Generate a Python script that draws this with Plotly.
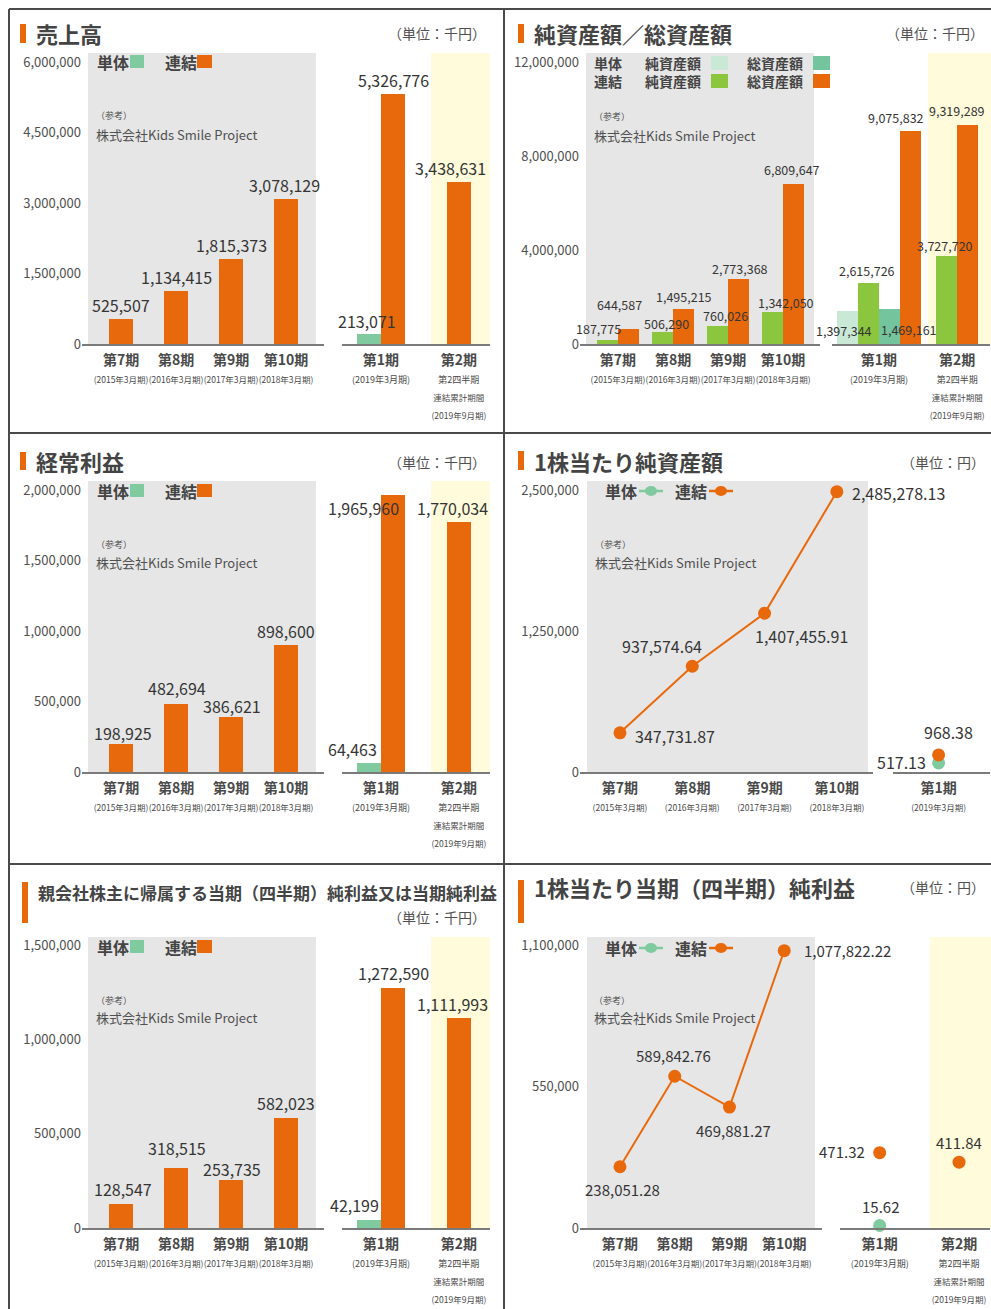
import plotly.graph_objects as go

# ---------------- data ----------------
ref_periods = ["第7期", "第8期", "第9期", "第10期"]
ref_fy = ["(2015年3月期)", "(2016年3月期)", "(2017年3月期)", "(2018年3月期)"]
grp_periods = ["第1期", "第2期"]
grp_sub = [["(2019年3月期)"], ["第2四半期", "連結累計期間", "(2019年9月期)"]]

sales_ref = [525507, 1134415, 1815373, 3078129]
sales_grp_single = [213071, None]
sales_grp_consol = [5326776, 3438631]

netassets_ref = [187775, 506290, 760026, 1342050]
totalassets_ref = [644587, 1495215, 2773368, 6809647]
netassets_grp_single = [1397344, None]
netassets_grp_consol = [2615726, 3727720]
totalassets_grp_single = [1469161, None]
totalassets_grp_consol = [9075832, 9319289]

ordinary_ref = [198925, 482694, 386621, 898600]
ordinary_grp_single = [64463, None]
ordinary_grp_consol = [1965960, 1770034]

bps_ref = [347731.87, 937574.64, 1407455.91, 2485278.13]
bps_grp_periods = ["第1期"]
bps_grp_single = [517.13]
bps_grp_consol = [968.38]

netincome_ref = [128547, 318515, 253735, 582023]
netincome_grp_single = [42199, None]
netincome_grp_consol = [1272590, 1111993]

eps_ref = [238051.28, 589842.76, 469881.27, 1077822.22]
eps_grp_single = [15.62, None]
eps_grp_consol = [471.32, 411.84]

sales_ticks = [0, 1500000, 3000000, 4500000, 6000000]
assets_ticks = [0, 4000000, 8000000, 12000000]
ordinary_ticks = [0, 500000, 1000000, 1500000, 2000000]
bps_ticks = [0, 1250000, 2500000]
netincome_ticks = [0, 500000, 1000000, 1500000]
eps_ticks = [0, 550000, 1100000]

titles = ["売上高", "純資産額／総資産額", "経常利益", "1株当たり純資産額",
          "親会社株主に帰属する当期（四半期）純利益又は当期純利益", "1株当たり当期（四半期）純利益"]
units = ["（単位：千円）", "（単位：千円）", "（単位：千円）", "（単位：円）", "（単位：千円）", "（単位：円）"]

# ---------------- style ----------------
W, H = 991, 1309


def clamp(v):
    return min(max(v, 0.0), 1.0)


def fx(p): return clamp(p / W)
def fy(p): return clamp(1 - p / H)


FONT = "Noto Sans CJK JP, Noto Sans, sans-serif"
TXT = "#353535"
TXT2 = "#505050"
TITLE = "#444444"
ORANGE = "#e8690b"
MINT = "#7fcb9f"
LIGHTMINT = "#c9e8d5"
TEAL = "#74c49d"
GREEN = "#8cc63f"
GRAY_BG = "#e6e6e6"
YELLOW_BG = "#fffbdb"
AXIS = "#7a7a7a"
BORDER = "#4a4a4a"

layout = dict(width=W, height=H, autosize=False, margin=dict(l=0, r=0, t=0, b=0, pad=0),
              paper_bgcolor="white", plot_bgcolor="rgba(0,0,0,0)",
              showlegend=False, barmode="overlay", bargap=0)
shapes, annotations, traces = [], [], []


def axkey(n, k):
    return f"{k}axis" + ("" if n == 1 else str(n))


def axref(n, k):
    return k + ("" if n == 1 else str(n))


def ticktext(mains, subs, sub_sizes):
    out = []
    for m, ss in zip(mains, subs):
        t = f"<b>{m}</b>"
        for s, fs in zip(ss, sub_sizes):
            t += f"<br><span style='font-size:{fs}px'>{s}</span>"
        out.append(t)
    return out


def add_subplot(n, xdom, ydom, xrange, yrange, cats, ttext, yticks=None):
    layout[axkey(n, "x")] = dict(
        domain=[fx(xdom[0]), fx(xdom[1])], anchor=axref(n, "y"), type="category",
        categoryorder="array", categoryarray=cats, range=xrange, tickmode="array",
        tickvals=cats, ticktext=ttext, tickangle=0, showline=True, linecolor=AXIS,
        linewidth=2, ticks="", showgrid=False, zeroline=False, fixedrange=True,
        automargin=False, tickfont=dict(family=FONT, size=14, color="#4a4a4a"), ticklabelstandoff=2)
    layout[axkey(n, "y")] = dict(
        domain=[fy(ydom[1]), fy(ydom[0])], anchor=axref(n, "x"), range=yrange,
        showgrid=False, zeroline=False, showline=False, ticks="", fixedrange=True,
        automargin=False, showticklabels=yticks is not None, tickmode="array",
        tickvals=yticks or [], tickformat=",", tickfont=dict(family=FONT, size=13, color=TXT2))


def rect(x0, y0, x1, y1, color, layer="below"):
    shapes.append(dict(type="rect", xref="paper", yref="paper", x0=fx(x0), x1=fx(x1),
                       y0=fy(y1), y1=fy(y0), fillcolor=color, line=dict(width=0), layer=layer))


def line(x0, y0, x1, y1, color, width):
    shapes.append(dict(type="line", xref="paper", yref="paper", x0=fx(x0), x1=fx(x1),
                       y0=fy(y0), y1=fy(y1), line=dict(color=color, width=width), layer="above"))


def text(x, y, s, size, color=TXT, xanchor="left", weight="normal"):
    annotations.append(dict(xref="paper", yref="paper", x=fx(x), y=fy(y), text=s,
                            showarrow=False, xanchor=xanchor, yanchor="middle", align=xanchor,
                            font=dict(family=FONT, size=size, color=color, weight=weight)))


def fmt(v):
    return f"{v:,.2f}" if isinstance(v, float) else f"{v:,}"


def vlabel(n, x, y, dx, dy, size, xanchor="center"):
    annotations.append(dict(xref=axref(n, "x"), yref=axref(n, "y"), x=x, y=y, text=fmt(y),
                            showarrow=False, xshift=dx, yshift=dy, xanchor=xanchor,
                            yanchor="middle", font=dict(family=FONT, size=size, color=TXT)))


def bar(n, cats, vals, color, w, offset):
    traces.append(go.Bar(x=cats, y=vals, xaxis=axref(n, "x"), yaxis=axref(n, "y"),
                         marker=dict(color=color, line=dict(width=0)), width=w, offset=offset,
                         hoverinfo="skip"))


def header(x_mark, y0, y1, title, tsize, ty, unit, ux, uy):
    rect(x_mark, y0, x_mark + 6, y1, ORANGE, layer="above")
    text(x_mark + 14, ty, title, tsize, TITLE, weight="bold")
    text(ux, uy, unit, 14, TXT2, xanchor="right")


def bar_legend(yc, x0):
    text(x0, yc, "単体", 16, TITLE, weight="bold")
    rect(x0 + 35, yc - 7, x0 + 49, yc + 6, MINT, layer="above")
    text(x0 + 68, yc, "連結", 16, TITLE, weight="bold")
    rect(x0 + 102, yc - 7, x0 + 117, yc + 6, ORANGE, layer="above")


def line_legend(yc, x0):
    for dx, lab, col in [(0, "単体", MINT), (70, "連結", ORANGE)]:
        text(x0 + dx, yc, lab, 16, TITLE, weight="bold")
        line(x0 + dx + 36, yc, x0 + dx + 60, yc, col, 2.5)
        shapes.append(dict(type="circle", xref="paper", yref="paper",
                           x0=fx(x0 + dx + 42), x1=fx(x0 + dx + 54), y0=fy(yc + 5), y1=fy(yc - 5),
                           fillcolor=col, line=dict(width=0), layer="above"))


def note(x, y):
    text(x, y, "（参考）", 9, TXT2)
    text(x, y + 18, "株式会社Kids Smile Project", 13, TXT2)


ref_tt = ticktext(ref_periods, [[s] for s in ref_fy], [8.5])
grp_tt = ticktext(grp_periods, grp_sub, [9, 8.5, 8.5])
bps_tt = ticktext(bps_grp_periods, [grp_sub[0]], [8.5])

# ---------------- borders ----------------
line(9, 9, 991, 9, BORDER, 2)
line(9, 433, 991, 433, BORDER, 2)
line(9, 864, 991, 864, BORDER, 2)
line(9, 9, 9, 1309, BORDER, 2)
line(504, 9, 504, 1309, BORDER, 2)


# ---------------- generic bar panel ----------------
def simple_bar_panel(n, y_top, y_zero, bg_top, yrange, yticks, ref_vals, g_single, g_consol,
                     ref_dx, ref_dy, gs_dx, gs_dy, gc_dx, gc_dy):
    wl, wr = 0.44, 0.31
    rect(88, bg_top, 316, y_zero, GRAY_BG)
    rect(431, bg_top, 490, y_zero, YELLOW_BG)
    add_subplot(n, (82, 324), (y_top, y_zero), [-0.71, 3.69], yrange, ref_periods, ref_tt, yticks)
    add_subplot(n + 1, (342, 490), (y_top, y_zero), [-0.5, 1.4], yrange, grp_periods, grp_tt)
    bar(n, ref_periods, ref_vals, ORANGE, wl, -wl / 2)
    for i, v in enumerate(ref_vals):
        vlabel(n, i, v, ref_dx[i], ref_dy[i], 16)
    bar(n + 1, grp_periods, g_single, MINT, wr, -wr)
    g_off = [0 if s is not None else -wr / 2 for s in g_single]
    bar(n + 1, grp_periods, g_consol, ORANGE, wr, g_off)
    for i, v in enumerate(g_single):
        if v is not None:
            vlabel(n + 1, i - wr / 2, v, gs_dx[i], gs_dy[i], 16)
    for i, v in enumerate(g_consol):
        vlabel(n + 1, i + g_off[i] + wr / 2, v, gc_dx[i], gc_dy[i], 16)


# Panel A: 売上高
header(20, 24, 43, titles[0], 22, 33, units[0], 488, 33)
simple_bar_panel(1, 62, 344, 53, [0, 6000000], sales_ticks, sales_ref, sales_grp_single, sales_grp_consol,
                 [0, 0, 0, -2], [14, 14, 14, 14], [-2, None], [13, None], [0, -8], [14, 14])
bar_legend(62, 95)
note(94, 116)

# Panel C: 経常利益
header(20, 452, 470, titles[2], 22, 461, units[2], 488, 462)
simple_bar_panel(5, 490, 772, 481, [0, 2000000], ordinary_ticks, ordinary_ref, ordinary_grp_single,
                 ordinary_grp_consol, [2, 1, 1, 0], [11, 16, 11, 14], [-16, None], [14, None],
                 [-30, -6], [-13, 14])
bar_legend(491, 95)
note(94, 544)

# Panel E: 親会社株主に帰属する...
header(22, 882, 923, titles[4], 17, 892, units[4], 488, 917)
simple_bar_panel(9, 945, 1228, 937, [0, 1500000], netincome_ticks, netincome_ref, netincome_grp_single,
                 netincome_grp_consol, [2, 1, 1, 0], [15, 20, 11, 15], [-14, None], [15, None],
                 [0, -6], [15, 14])
bar_legend(947, 95)
note(94, 1000)

# Panel B: 純資産額／総資産額
header(518, 24, 43, titles[1], 22, 33, units[1], 986, 33)
rect(586, 53, 814, 344, GRAY_BG)
rect(928, 53, 991, 344, YELLOW_BG)
add_subplot(3, (580, 820), (62, 344), [-0.69, 3.67], [0, 12000000], ref_periods, ref_tt, assets_ticks)
add_subplot(4, (832, 990), (62, 344), [-0.6, 1.42], [0, 12000000], grp_periods, grp_tt)
wl, wr = 0.38, 0.27
bar(3, ref_periods, netassets_ref, GREEN, wl, -wl)
bar(3, ref_periods, totalassets_ref, ORANGE, wl, 0)
for i, (v, dx, dy) in enumerate(zip(netassets_ref, [-9, 4, 8, 13], [11.5, 9, 11, 10])):
    vlabel(3, i - wl / 2, v, dx, dy, 12.5)
for i, (v, dx, dy) in enumerate(zip(totalassets_ref, [-9, 1, 1, -2], [24, 12, 10.5, 14])):
    vlabel(3, i + wl / 2, v, dx, dy, 12.5)
bar(4, grp_periods, netassets_grp_single, LIGHTMINT, wr, -2 * wr)
bar(4, grp_periods, netassets_grp_consol, GREEN, wr, -wr)
bar(4, grp_periods, totalassets_grp_single, TEAL, wr, 0)
tot_off = [wr if s is not None else 0 for s in totalassets_grp_single]
bar(4, grp_periods, totalassets_grp_consol, ORANGE, wr, tot_off)
vlabel(4, 0 - 1.5 * wr, netassets_grp_single[0], -3, -19, 12.5)
vlabel(4, 0 + 0.5 * wr, totalassets_grp_single[0], 20, -20, 12.5)
for i, (v, dx, dy) in enumerate(zip(netassets_grp_consol, [-1, -2], [12, 11])):
    vlabel(4, i - wr / 2, v, dx, dy, 12.5)
for i, (v, dx, dy) in enumerate(zip(totalassets_grp_consol, [-15, -11], [13, 14])):
    vlabel(4, i + tot_off[i] + wr / 2, v, dx, dy, 12.5)
# legend B (two rows per text block)
text(592, 72, "単体<br>連結", 14, TITLE, weight="bold")
text(643, 72, "純資産額<br>純資産額", 14, TITLE, weight="bold")
text(745, 72, "総資産額<br>総資産額", 14, TITLE, weight="bold")
for yc, c1, c2 in [(63, LIGHTMINT, TEAL), (81, GREEN, ORANGE)]:
    rect(711, yc - 7, 728, yc + 7, c1, layer="above")
    rect(813, yc - 7, 830, yc + 7, c2, layer="above")
note(592, 117)

# Panel D: 1株当たり純資産額
header(518, 451, 470, titles[3], 22, 461, units[3], 987, 462)
rect(587, 481, 868, 772, GRAY_BG)
add_subplot(7, (580, 873), (490, 772), [-0.553, 3.5], [0, 2500000], ref_periods, ref_tt, bps_ticks)
add_subplot(8, (893, 990), (490, 772), [-0.47, 0.53], [0, 16000], bps_grp_periods, bps_tt)
traces.append(go.Scatter(x=ref_periods, y=bps_ref, xaxis="x7", yaxis="y7", mode="lines+markers",
                         line=dict(color=ORANGE, width=2), marker=dict(size=13, color=ORANGE),
                         cliponaxis=False, hoverinfo="skip"))
traces.append(go.Scatter(x=bps_grp_periods, y=bps_grp_single, xaxis="x8", yaxis="y8", mode="markers",
                         marker=dict(size=13, color=MINT), cliponaxis=False, hoverinfo="skip"))
traces.append(go.Scatter(x=bps_grp_periods, y=bps_grp_consol, xaxis="x8", yaxis="y8", mode="markers",
                         marker=dict(size=13, color=ORANGE), cliponaxis=False, hoverinfo="skip"))
for i, (v, dx, dy, xa) in enumerate(zip(bps_ref, [13, -30, 37, 13], [-3, 20, -23, -1],
                                        ["left", "center", "center", "left"])):
    vlabel(7, i, v, dx, dy, 16, xa)
vlabel(8, 0, bps_grp_consol[0], 10, 23, 16)
vlabel(8, 0, bps_grp_single[0], -11, 1, 16, "right")
line_legend(491, 603)
note(593, 544)

# Panel F: 1株当たり当期純利益
header(518, 880, 923, titles[5], 22, 887, units[5], 987, 887)
rect(587, 937, 815, 1228, GRAY_BG)
rect(930, 937, 991, 1228, YELLOW_BG)
add_subplot(11, (580, 822), (945, 1228), [-0.73, 3.69], [0, 1100000], ref_periods, ref_tt, eps_ticks)
add_subplot(12, (840, 990), (945, 1228), [-0.5, 1.39], [0, 1770], grp_periods, grp_tt)
traces.append(go.Scatter(x=ref_periods, y=eps_ref, xaxis="x11", yaxis="y11", mode="lines+markers",
                         line=dict(color=ORANGE, width=2), marker=dict(size=13, color=ORANGE),
                         cliponaxis=False, hoverinfo="skip"))
traces.append(go.Scatter(x=grp_periods, y=eps_grp_single, xaxis="x12", yaxis="y12", mode="markers",
                         marker=dict(size=13, color=MINT), cliponaxis=False, hoverinfo="skip"))
traces.append(go.Scatter(x=grp_periods, y=eps_grp_consol, xaxis="x12", yaxis="y12", mode="markers",
                         marker=dict(size=13, color=ORANGE), cliponaxis=False, hoverinfo="skip"))
for i, (v, dx, dy, xa) in enumerate(zip(eps_ref, [3, -1, 4, 18], [-23, 21, -23, 0],
                                        ["center", "center", "center", "left"])):
    vlabel(11, i, v, dx, dy, 15, xa)
vlabel(12, 0, eps_grp_consol[0], -13, 1, 15, "right")
vlabel(12, 1, eps_grp_consol[1], 0, 20, 15)
vlabel(12, 0, eps_grp_single[0], 1, 19, 15)
line_legend(948, 603)
note(592, 1000)

layout["shapes"] = shapes
layout["annotations"] = annotations
fig = go.Figure(data=traces, layout=layout)

# pin the figure to the page's top-left corner so it fills the window exactly
pin = ("var gd=document.getElementById('{plot_id}');"
       "document.documentElement.style.margin='0';document.body.style.margin='0';"
       "document.body.style.overflow='hidden';"
       "gd.style.position='fixed';gd.style.left='0px';gd.style.top='0px';")
fig.write_html("out.html", post_script=pin, config={"displayModeBar": False})
